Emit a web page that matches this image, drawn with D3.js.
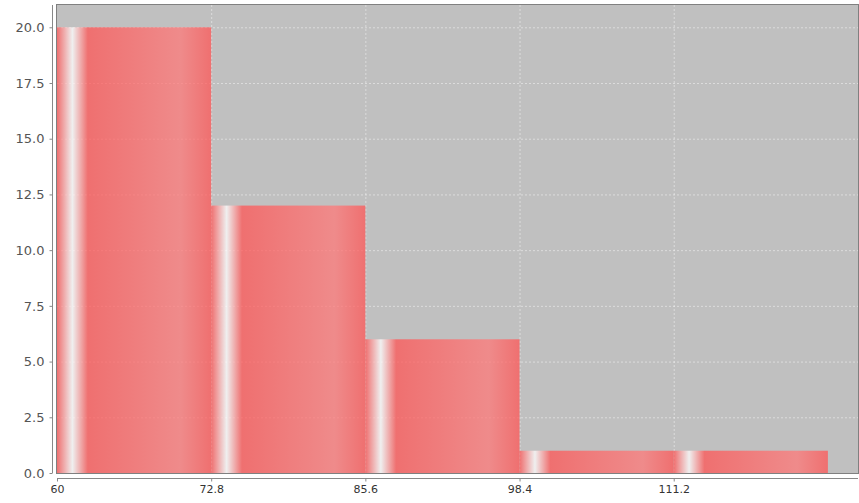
<!DOCTYPE html>
<html><head><meta charset="utf-8">
<script src="https://cdn.jsdelivr.net/npm/d3@7"></script>
<style>body{margin:0;background:#fff}svg{display:block}text{font-family:"DejaVu Sans",sans-serif}</style>
</head><body>
<script>
const binStarts = [60, 72.8, 85.6, 98.4, 111.2];
const binEnds = [72.8, 85.6, 98.4, 111.2, 124];
const counts = [20, 12, 6, 1, 1];
const xTicks = [60, 72.8, 85.6, 98.4, 111.2];
const yTicks = [0, 2.5, 5, 7.5, 10, 12.5, 15, 17.5, 20];

const W = 859, H = 503;
const plot = {l: 57, r: 858, t: 5, b: 473};
const svg = d3.select("body").append("svg").attr("width", W).attr("height", H);
const x = d3.scaleLinear().domain([60, 126.5]).range([plot.l, plot.r]);
const y = d3.scaleLinear().domain([0, 21]).range([plot.b, plot.t]);

const defs = svg.append("defs");
const c = "#ff5555", br = "#ff7979";
const g = defs.append("linearGradient").attr("id", "barGrad").attr("x1", 0).attr("x2", 1).attr("y1", 0).attr("y2", 0);
[[0, c], [0.1, "#ffffff"], [0.2, c], [0.8, br], [1, c]].forEach(([o, col]) =>
  g.append("stop").attr("offset", o).attr("stop-color", col));

svg.append("rect").attr("x", plot.l).attr("y", plot.t).attr("width", plot.r - plot.l).attr("height", plot.b - plot.t).attr("fill", "#c0c0c0");

// gridlines
svg.append("g").selectAll("line").data(yTicks).join("line")
  .attr("x1", plot.l).attr("x2", plot.r).attr("y1", d => y(d) + 0.5).attr("y2", d => y(d) + 0.5)
  .attr("stroke", "#ffffff").attr("stroke-opacity", 0.45).attr("stroke-width", 1).attr("stroke-dasharray", "2,2");
svg.append("g").selectAll("line").data(xTicks.slice(1)).join("line")
  .attr("x1", d => x(d) + 0.5).attr("x2", d => x(d) + 0.5).attr("y1", plot.t).attr("y2", plot.b)
  .attr("stroke", "#ffffff").attr("stroke-opacity", 0.45).attr("stroke-width", 1).attr("stroke-dasharray", "2,2");

// bars
svg.append("g").selectAll("rect").data(counts).join("rect")
  .attr("x", (d, i) => x(binStarts[i]))
  .attr("width", (d, i) => x(binEnds[i]) - x(binStarts[i]))
  .attr("y", d => y(d))
  .attr("height", d => y(0) - y(d))
  .attr("fill", "url(#barGrad)").attr("fill-opacity", 0.75);

// outline
svg.append("rect").attr("x", plot.l - 0.5).attr("y", plot.t - 0.5).attr("width", plot.r - plot.l + 1).attr("height", plot.b - plot.t + 1)
  .attr("fill", "none").attr("stroke", "#808080").attr("stroke-width", 1);

// y axis
const yAxis = d3.axisLeft(y).tickValues(yTicks).tickFormat(d3.format(".1f")).tickSizeInner(3).tickSizeOuter(0).tickPadding(5);
const ya = svg.append("g").attr("transform", `translate(${plot.l - 4.5},0)`).call(yAxis);
ya.select(".domain").attr("stroke", "#888").attr("d", `M0,${plot.t}V${plot.b}`);
ya.selectAll(".tick line").attr("stroke", "#888");
ya.selectAll("text").attr("font-size", 13).attr("fill", "#555").attr("font-family", "DejaVu Sans, sans-serif");

// x axis
const xAxis = d3.axisBottom(x).tickValues(xTicks).tickFormat(d => String(d)).tickSizeInner(3).tickSizeOuter(0).tickPadding(4);
const xa = svg.append("g").attr("transform", `translate(0,${plot.b + 5.5})`).call(xAxis);
xa.select(".domain").attr("stroke", "#888").attr("d", `M${plot.l},0H${plot.r}`);
xa.selectAll(".tick line").attr("stroke", "#888");
xa.selectAll("text").attr("font-size", 11).attr("fill", "#333").attr("font-family", "DejaVu Sans, sans-serif");
</script>
</body></html>
